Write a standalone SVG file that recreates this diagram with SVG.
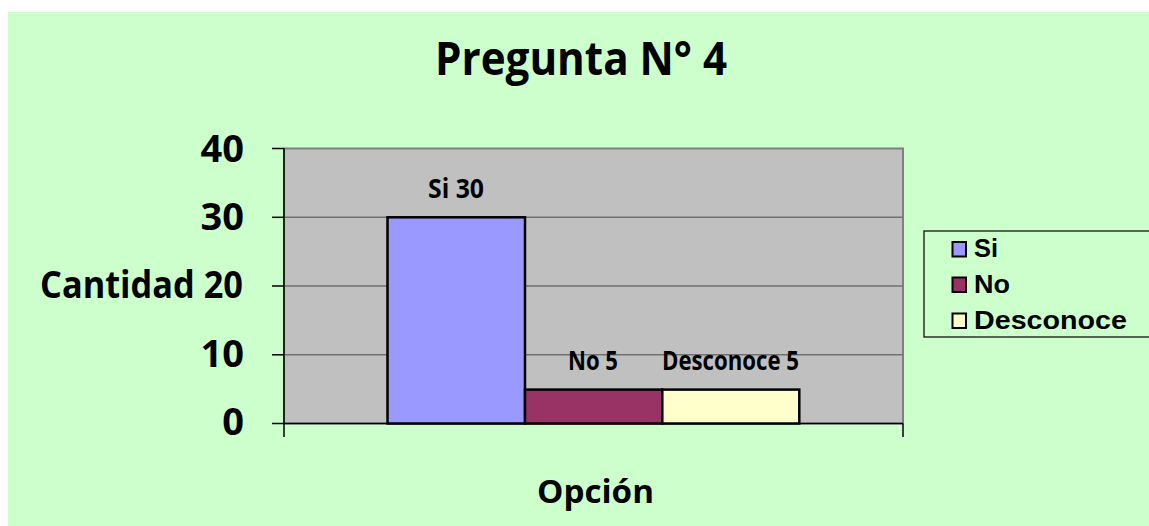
<svg xmlns="http://www.w3.org/2000/svg" width="1149" height="526" viewBox="0 0 1149 526">
<style>
.cal{font-family:"Open Sans","Lato","Liberation Sans",sans-serif;font-weight:bold;fill:#000}
.ari{font-family:"Liberation Sans",Arial,sans-serif;font-weight:bold;fill:#000}
.grid{stroke:#707070;stroke-width:1.5}
.bar{stroke:#000;stroke-width:2.5}
.axis{stroke:#000;stroke-width:1.5}
</style>
<rect x="0" y="0" width="1149" height="526" fill="#ffffff"/>
<rect x="8" y="12" width="1141" height="514" fill="#CCFFCC"/>
<g id="title"><text class="cal" x="581" y="75" font-size="46" text-anchor="middle" textLength="292" lengthAdjust="spacingAndGlyphs">Pregunta N° 4</text></g>
<g id="plot">
<rect x="284" y="148.5" width="619" height="275" fill="#C0C0C0" stroke="#808080" stroke-width="2"/>
<line class="grid" x1="284" y1="217.3" x2="903" y2="217.3"/>
<line class="grid" x1="284" y1="286" x2="903" y2="286"/>
<line class="grid" x1="284" y1="354.8" x2="903" y2="354.8"/>
</g>
<g id="axes">
<line class="axis" x1="284" y1="148" x2="284" y2="437"/>
<line class="axis" x1="272" y1="423.5" x2="903" y2="423.5"/>
<line class="axis" x1="903" y1="423.5" x2="903" y2="437"/>
<line class="axis" x1="272" y1="148.5" x2="284" y2="148.5"/>
<line class="axis" x1="272" y1="217.3" x2="284" y2="217.3"/>
<line class="axis" x1="272" y1="286" x2="284" y2="286"/>
<line class="axis" x1="272" y1="354.8" x2="284" y2="354.8"/>
<text class="cal" x="244" y="162" font-size="38" text-anchor="end">40</text>
<text class="cal" x="244" y="230" font-size="38" text-anchor="end">30</text>
<text class="cal" x="244" y="367" font-size="38" text-anchor="end">10</text>
<text class="cal" x="244" y="435" font-size="38" text-anchor="end">0</text>
<text class="cal" x="40" y="298" font-size="38" textLength="203" lengthAdjust="spacingAndGlyphs">Cantidad 20</text>
<text class="cal" x="595.5" y="503" font-size="33" text-anchor="middle" textLength="117" lengthAdjust="spacingAndGlyphs">Opción</text>
</g>
<g id="bar-si">
<rect class="bar" x="387.5" y="217.3" width="137.5" height="206.2" fill="#9999FF"/>
<text class="cal" x="456" y="198" font-size="26" text-anchor="middle" textLength="56" lengthAdjust="spacingAndGlyphs">Si 30</text>
</g>
<g id="bar-no">
<rect class="bar" x="525" y="389.6" width="137.3" height="33.9" fill="#993366"/>
<text class="cal" x="593" y="370" font-size="26" text-anchor="middle" textLength="50" lengthAdjust="spacingAndGlyphs">No 5</text>
</g>
<g id="bar-desconoce">
<rect class="bar" x="662.3" y="389.6" width="137" height="33.9" fill="#FFFFCC"/>
<text class="cal" x="730.5" y="370" font-size="26" text-anchor="middle" textLength="137" lengthAdjust="spacingAndGlyphs">Desconoce 5</text>
</g>
<g id="legend">
<rect x="924" y="231" width="240" height="106" fill="#CCFFCC" stroke="#000" stroke-width="1.2"/>
<rect x="952.5" y="242" width="13.5" height="14.5" fill="#9999FF" stroke="#000" stroke-width="2"/>
<rect x="952.5" y="277.5" width="13.5" height="14.5" fill="#993366" stroke="#000" stroke-width="2"/>
<rect x="952.5" y="313.5" width="13.5" height="14.5" fill="#FFFFCC" stroke="#000" stroke-width="2"/>
<text class="ari" x="974" y="257" font-size="26" textLength="24" lengthAdjust="spacingAndGlyphs">Si</text>
<text class="ari" x="974" y="292.5" font-size="26" textLength="36" lengthAdjust="spacingAndGlyphs">No</text>
<text class="ari" x="974" y="328.5" font-size="26" textLength="153" lengthAdjust="spacingAndGlyphs">Desconoce</text>
</g>
</svg>
